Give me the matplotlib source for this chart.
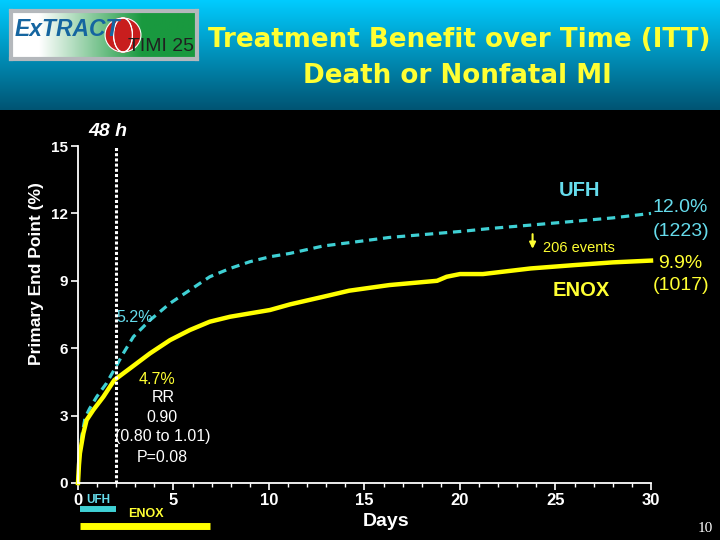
import numpy as np
import matplotlib
matplotlib.use("Agg")
import matplotlib.pyplot as plt
from matplotlib.patches import Ellipse
import matplotlib.transforms as mtransforms

plt.rcParams['font.family'] = ['Liberation Sans', 'DejaVu Sans']

# ---- data ----
ufh_days = [0, 0.05, 0.1, 0.2, 0.37, 0.6, 0.98, 1.5, 2.0, 2.37, 2.9, 3.77, 4.82, 5.86,
            6.9, 7.96, 9.0, 10.05, 11.1, 12.84, 14.6, 16.3, 18.4, 20.2, 21.6, 23.7,
            26.0, 28.0, 30.0]
ufh_pct = [0, 0.9, 1.4, 2.1, 2.9, 3.3, 3.84, 4.45, 5.2, 5.77, 6.51, 7.25, 8.0, 8.59,
           9.18, 9.55, 9.85, 10.07, 10.22, 10.55, 10.74, 10.93, 11.08, 11.21, 11.33, 11.48,
           11.65, 11.8, 12.0]
enox_days = [0, 0.05, 0.1, 0.28, 0.45, 0.8, 1.33, 1.9, 2.72, 3.77, 4.82, 5.86, 6.9,
             7.96, 9.0, 10.05, 11.1, 12.84, 14.2, 16.3, 18.8, 19.3, 20.0, 21.2, 23.7,
             26.0, 28.0, 30.0]
enox_pct = [0, 0.8, 1.32, 2.21, 2.8, 3.25, 3.84, 4.58, 5.1, 5.77, 6.36, 6.81, 7.18,
            7.4, 7.55, 7.7, 7.95, 8.29, 8.56, 8.81, 9.0, 9.18, 9.3, 9.3, 9.55,
            9.7, 9.82, 9.9]
cutoff_day = 2
ufh_tx = [0.1, 2.0]
enox_tx = [0.1, 6.9]
x_ticks = [0, 5, 10, 15, 20, 25, 30]
y_ticks = [0, 3, 6, 9, 12, 15]

CYAN = '#3fd0d4'
CYAN_T = '#66dcec'
YEL = '#ffff00'
YEL_T = '#ffff33'

W, H = 720, 540
fig = plt.figure(figsize=(7.2, 5.4), dpi=100, facecolor='black')

def fx(px):
    return px / W

def fy(py):
    return 1 - py / H

# header gradient
hax = fig.add_axes([0, fy(110), 1, 110 / H])
top = np.array([0, 204, 255]) / 255
bot = np.array([0, 84, 115]) / 255
t = np.linspace(0, 1, 200)[:, None]
grad = (top[None, :] * (1 - t) + bot[None, :] * t)[:, None, :]
grad = np.repeat(grad, 2, axis=1)
hax.imshow(grad, aspect='auto', extent=[0, 1, 0, 1])
hax.set_axis_off()

# logo
lax = fig.add_axes([fx(11), fy(59), 186 / W, 48 / H])
g = np.clip((np.linspace(0, 1, 200) - 0.15) / 0.55, 0, 1)[None, :]
c1 = np.array([1, 1, 1]); c2 = np.array([0.1, 0.6, 0.25])
lg = (c1[None, None, :] * (1 - g[..., None]) + c2[None, None, :] * g[..., None])
lg = np.repeat(lg, 2, axis=0)
lax.imshow(lg, aspect='auto', extent=[0, 1, 0, 1])
lax.set_xlim(0, 1); lax.set_ylim(0, 1)
lax.set_xticks([]); lax.set_yticks([])
for s in lax.spines.values():
    s.set_color('#b4b8bc'); s.set_linewidth(3)
cx, cy, r = (123 - 11) / 186, (59 - 35) / 48, 17
lax.add_patch(Ellipse((cx, cy), 2 * r / 186, 2 * r / 48, transform=lax.transAxes,
                      color='#c81e1e', zorder=2))
for k in [-0.5, 0, 0.5]:
    lax.add_patch(Ellipse((cx, cy), 2 * r / 186 * (1 - abs(k)) + 0.01, 2 * r / 48,
                          transform=lax.transAxes, fill=False, ec='white', lw=0.8,
                          zorder=2.5))
lax.text(0.02, 0.62, 'ExTRACT', transform=lax.transAxes, fontsize=16.5, fontstyle='italic',
         fontweight='bold', color='#1565a0', va='center', ha='left', zorder=3)
lax.text(0.985, 0.27, 'TIMI 25', transform=lax.transAxes, fontsize=14,
         color='#202020', va='center', ha='right', zorder=3)

fig.text(fx(459), fy(40), 'Treatment Benefit over Time (ITT)', color=YEL_T, fontsize=18.8,
         fontweight='bold', ha='center', va='center', family='DejaVu Sans')
fig.text(fx(457), fy(76), 'Death or Nonfatal MI', color=YEL_T, fontsize=18.8,
         fontweight='bold', ha='center', va='center', family='DejaVu Sans')

# main axes
ax = fig.add_axes([fx(78), fy(483), (651 - 78) / W, (483 - 146) / H])
ax.set_facecolor('black')
ax.plot(ufh_days, ufh_pct, color=CYAN, lw=2.3, linestyle=(0, (2.6, 1.8)), clip_on=False)
ax.plot(enox_days, enox_pct, color=YEL, lw=3.2, clip_on=False)
ax.plot([cutoff_day, cutoff_day], [0, 15], color='white', lw=2.2,
        linestyle=(0, (1, 0.7)), clip_on=False)
ax.set_xlim(0, 30)
ax.set_ylim(0, 15)
ax.set_xticks(x_ticks)
ax.set_xticks(range(0, 31), minor=True)
ax.set_yticks(y_ticks)
ax.set_xticklabels([str(v) for v in x_ticks], fontsize=12, fontweight='bold', color='white')
ax.set_yticklabels([str(v) for v in y_ticks], fontsize=11, fontweight='bold', color='white')
for s in ['top', 'right']:
    ax.spines[s].set_visible(False)
for s in ['left', 'bottom']:
    ax.spines[s].set_color('white'); ax.spines[s].set_linewidth(1.3)
ax.tick_params(axis='both', which='major', colors='white', length=5, width=1.2, pad=2)
ax.tick_params(axis='x', which='minor', colors='white', length=3, width=1)

fig.text(fx(37), fy(274), 'Primary End Point (%)', color='white', fontsize=12.5,
         fontweight='bold', rotation=90, ha='center', va='center')
fig.text(fx(386), fy(521), 'Days', color='white', fontsize=14, fontweight='bold',
         ha='center', va='center')

# treatment duration bars
trans = mtransforms.blended_transform_factory(ax.transData, ax.transAxes)
ax.plot(ufh_tx, [-0.077, -0.077], color=CYAN, lw=4.3, solid_capstyle='butt',
        transform=trans, clip_on=False)
ax.plot(enox_tx, [-0.128, -0.128], color=YEL, lw=5, solid_capstyle='butt',
        transform=trans, clip_on=False)
fig.text(fx(98), fy(500), 'UFH', color=CYAN_T, fontsize=8.5, fontweight='bold',
         ha='center', va='center')
fig.text(fx(146), fy(514), 'ENOX', color=YEL_T, fontsize=9, fontweight='bold',
         ha='center', va='center')

# annotations
fig.text(fx(88), fy(131), '48 h', color='white', fontsize=14, fontweight='bold',
         fontstyle='italic', ha='left', va='center')
fig.text(fx(116), fy(317), '5.2%', color=CYAN_T, fontsize=11.5, ha='left', va='center')
fig.text(fx(157), fy(380), '4.7%', color=YEL_T, fontsize=11.5, ha='center', va='center')
fig.text(fx(163), fy(397), 'RR', color='white', fontsize=11.5, ha='center', va='center')
fig.text(fx(162), fy(417), '0.90', color='white', fontsize=11.5, ha='center', va='center')
fig.text(fx(162.5), fy(437), '(0.80 to 1.01)', color='white', fontsize=11.5, ha='center',
         va='center')
fig.text(fx(162), fy(458), 'P=0.08', color='white', fontsize=11.5, ha='center', va='center')

fig.text(fx(580), fy(191), 'UFH', color=CYAN_T, fontsize=14.5, fontweight='bold',
         ha='center', va='center')
fig.text(fx(581), fy(290), 'ENOX', color=YEL_T, fontsize=14.5, fontweight='bold',
         ha='center', va='center')
fig.text(fx(680), fy(208), '12.0%', color=CYAN_T, fontsize=14, ha='center', va='center')
fig.text(fx(681), fy(231), '(1223)', color=CYAN_T, fontsize=14, ha='center', va='center')
fig.text(fx(680), fy(264), '9.9%', color=YEL_T, fontsize=14, ha='center', va='center')
fig.text(fx(681), fy(286), '(1017)', color=YEL_T, fontsize=14, ha='center', va='center')

ax.annotate('', xy=(23.8, 10.3), xytext=(23.8, 11.2),
            arrowprops=dict(arrowstyle='-|>', color=YEL_T, lw=1.5, mutation_scale=9))
fig.text(fx(543), fy(248), '206 events', color=YEL_T, fontsize=10.5, ha='left', va='center')

fig.text(fx(705), fy(528), '10', color='white', fontsize=11, family='Liberation Serif',
         ha='center', va='center')

fig.savefig('out.png', dpi=100, facecolor='black')
